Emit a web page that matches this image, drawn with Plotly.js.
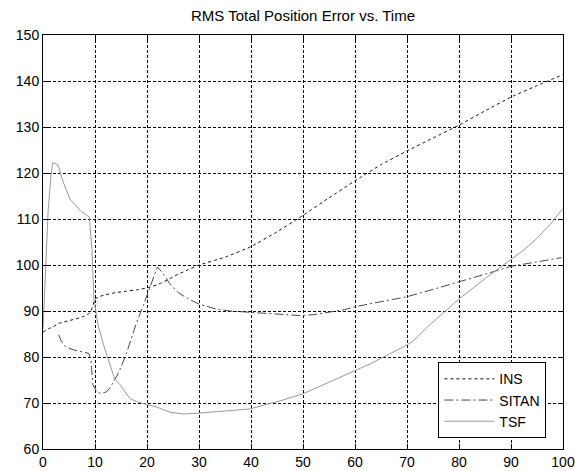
<!DOCTYPE html>
<html>
<head>
<meta charset="utf-8">
<script src="https://cdn.plot.ly/plotly-3.0.1.min.js"></script>
<style>html,body{margin:0;padding:0;background:#fff;}#chart{width:575px;height:471px;}</style>
</head>
<body>
<div id="chart"></div>
<script>
var insX = [0,1,2,3,4,5,6,7,8,9,9.5,10,11,12,14,16,18,20,22,24,26,28,30,35,40,45,50,55,60,65,70,75,80,85,90,95,100];
var insY = [85.4,86.1,86.6,87.3,87.6,87.9,88.2,88.5,88.9,89.6,90.8,92.6,93.2,93.5,94.0,94.3,94.6,95.0,95.7,96.8,98.0,99.0,100.0,101.7,104.0,107.2,110.8,114.6,118.3,121.8,124.8,127.6,130.4,133.5,136.5,139.0,141.4];

var sitanX = [3,3.5,4.2,5,6,7,8,8.8,9.2,9.6,10.3,11,12.2,13,14.2,15,16.1,17,18,19.3,20.5,21.5,22,23,24.4,26,28,30,33.4,36,40,45,49.4,52,55.2,58,60.3,63.5,66,70,75,80,85,90,95,99.7];
var sitanY = [84.8,83.5,82.4,81.9,81.5,81.3,81.1,80.8,79.5,74.0,72.4,72.1,72.4,73.5,75.9,77.8,81.0,84.0,87.5,91.2,95.0,97.7,99.6,98.3,95.9,94.0,92.6,91.5,90.4,90.0,89.7,89.3,89.0,89.2,89.7,90.3,91.0,91.7,92.3,93.1,94.7,96.3,98.0,99.7,100.6,101.6];

var tsfX = [0,0.5,1,1.5,1.9,2.9,3.9,5.2,7.2,8.9,9.4,9.8,10.6,11.9,13.8,14.8,16.7,18,19.9,21.9,24.4,27,30,33.4,36,39.8,43,46,50,55,60,62.9,66,70,71.2,74,77.6,80,85.3,90,92.5,94.9,97.5,100];
var tsfY = [86,100,112,119,122.3,121.7,118.0,114.3,111.8,110.4,103.5,92.6,86.8,81.7,75.2,74.0,71.0,70.3,69.7,69.1,68.0,67.6,67.8,68.1,68.3,68.7,69.7,70.6,72.0,74.5,77.0,78.5,80.3,82.6,83.5,86.6,90.2,92.6,97.3,101.1,103.3,105.7,108.8,112.3];

var seriesNames = ['INS','SITAN','TSF'];
var fontFam = 'Arial, "Liberation Sans", sans-serif';

var traces = [
  {x: insX, y: insY, name: seriesNames[0], type: 'scatter', mode: 'lines', line: {shape: 'spline', smoothing: 0.4,
   color: '#111111', width: 1, dash: '3px,3px'}},
  {x: sitanX, y: sitanY, name: seriesNames[1], type: 'scatter', mode: 'lines',
   line: {color: '#4a4a4a', width: 1, dash: '9px,3px,2px,3px'}},
  {x: tsfX, y: tsfY, name: seriesNames[2], type: 'scatter', mode: 'lines',
   line: {color: '#9a9a9a', width: 1}}
];

var axisCommon = {
  showgrid: true, gridcolor: '#000000', gridwidth: 1, griddash: '3px,2px',
  showline: true, linecolor: '#000000', linewidth: 1, mirror: 'allticks',
  ticks: 'inside', ticklen: 5, tickcolor: '#000000', tickwidth: 1,
  zeroline: false, tickfont: {family: fontFam, size: 14, color: '#000000'},
  fixedrange: true
};

var layout = {
  width: 575, height: 471,
  margin: {l: 43, r: 12, t: 35, b: 22, pad: 0},
  paper_bgcolor: '#ffffff', plot_bgcolor: '#ffffff',
  font: {family: fontFam, size: 14, color: '#000000'},
  title: {text: 'RMS Total Position Error vs. Time', x: 0.5, xref: 'paper', xanchor: 'center',
          y: 1 - 16/471, yref: 'container', yanchor: 'middle',
          font: {family: fontFam, size: 15, color: '#000000'}},
  xaxis: Object.assign({}, axisCommon, {range: [0, 100], tick0: 0, dtick: 10}),
  yaxis: Object.assign({}, axisCommon, {range: [60, 150], tick0: 60, dtick: 10}),
  showlegend: true,
  legend: {x: 0.968, xanchor: 'right', y: 0.026, yanchor: 'bottom',
           bgcolor: '#ffffff', bordercolor: '#000000', borderwidth: 1,
           font: {family: fontFam, size: 14, color: '#000000'}, itemwidth: 50}
};

Plotly.newPlot('chart', traces, layout, {displayModeBar: false, staticPlot: true});
</script>
</body>
</html>
